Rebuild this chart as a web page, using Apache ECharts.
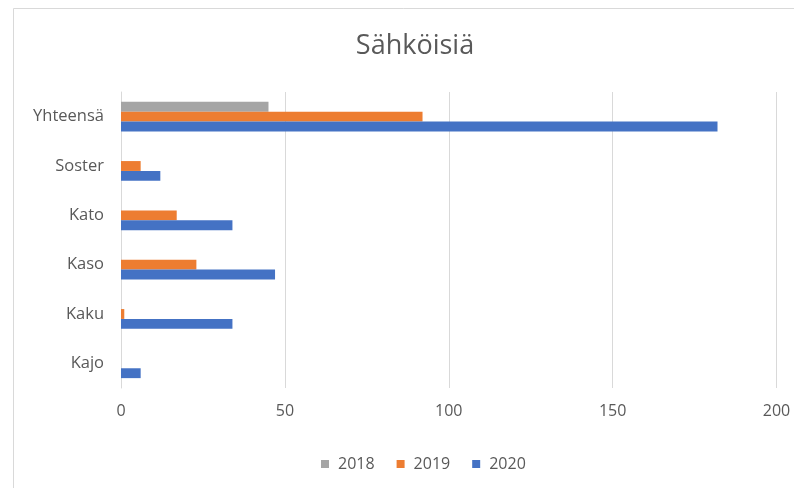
<!DOCTYPE html>
<html><head><meta charset="utf-8">
<script src="https://cdn.jsdelivr.net/npm/echarts@6/dist/echarts.min.js"></script>
<style>html,body{margin:0;padding:0;background:#fff}#c{width:794px;height:488px}</style>
</head><body><div id="c"></div>
<script>
const categories = ['Kajo', 'Kaku', 'Kaso', 'Kato', 'Soster', 'Yhteensä'];
const values2018 = [0, 0, 0, 0, 0, 45];
const values2019 = [0, 1, 23, 17, 6, 92];
const values2020 = [6, 34, 47, 34, 12, 182];
const xTicks = [0, 50, 100, 150, 200];

const chart = echarts.init(document.getElementById('c'));
const font = '"Open Sans", "Noto Sans", sans-serif';
chart.setOption({
  animation: false,
  backgroundColor: '#fff',
  textStyle: { fontFamily: font },
  title: { text: 'Sähköisiä', left: 410, top: 28, textAlign: 'center',
    textStyle: { fontFamily: font, fontSize: 27, fontWeight: 'normal', color: '#595959' } },
  legend: { top: 451, left: 316, itemWidth: 8, itemHeight: 8, itemGap: 22,
    icon: 'rect', textStyle: { fontFamily: font, fontSize: 16, color: '#595959', padding: [0, 0, 0, 4] },
    data: ['2018', '2019', '2020'] },
  grid: { left: 121, right: 17.5, top: 92, bottom: 100, containLabel: false },
  xAxis: { type: 'value', min: xTicks[0], max: xTicks[xTicks.length - 1], interval: 50,
    axisLine: { show: false }, axisTick: { show: false },
    axisLabel: { fontSize: 16, color: '#595959', margin: 15, fontFamily: font },
    splitLine: { lineStyle: { color: '#d9d9d9', width: 1 } } },
  yAxis: { type: 'category', data: categories,
    axisLine: { show: true, lineStyle: { color: '#d9d9d9' } }, axisTick: { show: false },
    axisLabel: { fontSize: 16.5, color: '#595959', margin: 17, fontFamily: font } },
  graphic: [
    { type: 'line', shape: { x1: 13.5, y1: 8.5, x2: 794, y2: 8.5 }, style: { stroke: '#d9d9d9', lineWidth: 1 } },
    { type: 'line', shape: { x1: 13.5, y1: 8.5, x2: 13.5, y2: 488 }, style: { stroke: '#d9d9d9', lineWidth: 1 } }
  ],
  series: [
    { name: '2018', type: 'bar', data: values2018, itemStyle: { color: '#a5a5a5' }, barGap: '0%', barCategoryGap: '40%' },
    { name: '2019', type: 'bar', data: values2019, itemStyle: { color: '#ed7d31' }, barGap: '0%', barCategoryGap: '40%' },
    { name: '2020', type: 'bar', data: values2020, itemStyle: { color: '#4472c4' }, barGap: '0%', barCategoryGap: '40%' }
  ]
});
</script></body></html>
